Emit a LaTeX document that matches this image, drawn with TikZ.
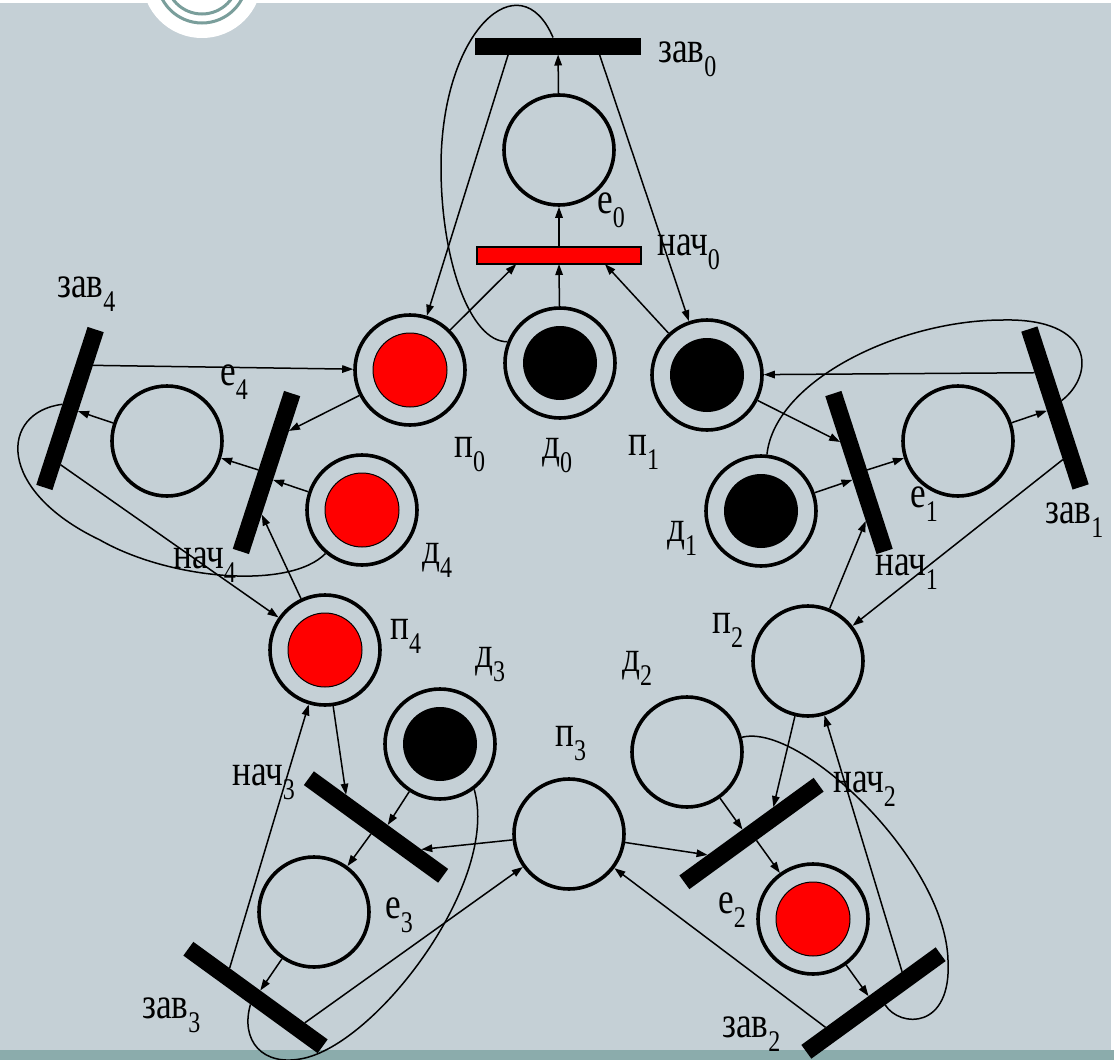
\documentclass[tikz,border=0pt]{standalone}
\usepackage{fontspec}
\setmainfont{Liberation Serif}[FakeStretch=0.8]
\usetikzlibrary{arrows.meta,calc}
\definecolor{slidebg}{RGB}{197,208,214}
\definecolor{slideband}{RGB}{139,172,172}
\definecolor{slidering}{RGB}{122,158,155}
\newcommand{\lab}[2]{#1\raisebox{-14pt}{\fontsize{30}{30}\selectfont #2}}

\begin{document}
\begin{tikzpicture}[
    x=1pt, y=-1pt,
    % places and transitions of the net
    place/.style={circle, draw, line width=3.6pt, minimum size=110pt, inner sep=0pt},
    redtok/.style={place, path picture={\filldraw[fill=red, draw=black, line width=1pt] (path picture bounding box.center) circle (37pt);}},
    blacktok/.style={place, path picture={\fill (path picture bounding box.center) circle (37pt);}},
    trans/.style={rectangle, fill=black, minimum width=166pt, minimum height=17pt, inner sep=0pt, outer sep=0pt},
    flow/.style={line width=1.5pt, -{Triangle[length=11pt,width=7.5pt]}},
    loopline/.style={line width=1.5pt},
    lbl/.style={inner sep=0pt, anchor=base west, font=\fontsize{44}{46}\selectfont}
  ]
  \useasboundingbox (0,0) rectangle (1114,1060);
  \clip (0,0) rectangle (1114,1060);

  % slide background
  \fill[white] (0,0) rectangle (1114,1060);
  \fill[slidebg] (0,3) rectangle (1111,1050);
  \fill[slideband] (0,1050) rectangle (1114,1060);
  \fill[white] (202,-22) circle (60pt);
  \draw[slidering, line width=3pt] (202,-22) circle (45pt) (202,-22) circle (36pt);

  % transitions
  \node[trans] (zav0) at (558,46) {};
  \node[trans, fill=red, draw=black, line width=1.5pt, minimum width=164pt] (nach0) at (559,255.5) {};
  \node[trans, rotate=-72] (nach1) at (859,472.5) {};
  \node[trans, rotate=-72] (zav1) at (1055,408) {};
  \node[trans, rotate=216] (nach2) at (751.5,833.5) {};
  \node[trans, rotate=216] (zav2) at (873.5,1003) {};
  \node[trans, rotate=144] (nach3) at (376,827) {};
  \node[trans, rotate=144] (zav3) at (255.5,997.5) {};
  \node[trans, rotate=72] (nach4) at (266.5,472.5) {};
  \node[trans, rotate=72] (zav4) at (70,408.5) {};

  % places
  \node[place] (e0) at (559,150) {};
  \node[redtok] (p0) at (410,370) {};
  \node[blacktok] (d0) at (560,363) {};
  \node[blacktok] (p1) at (707,375) {};
  \node[blacktok] (d1) at (761,511) {};
  \node[place] (e1) at (958,441) {};
  \node[place] (p2) at (808,661) {};
  \node[place] (d2) at (687,752) {};
  \node[redtok] (e2) at (813,919) {};
  \node[place] (p3) at (569,834) {};
  \node[blacktok] (d3) at (440,744) {};
  \node[place] (e3) at (314,912) {};
  \node[redtok] (p4) at (325,650) {};
  \node[redtok] (d4) at (362,510) {};
  \node[place] (e4) at (167,441) {};

  % ports on the bars
  \coordinate (n0p0) at ($(nach0.south west)!0.24!(nach0.south east)$);
  \coordinate (n0d) at ($(nach0.south west)!0.5!(nach0.south east)$);
  \coordinate (n0p1) at ($(nach0.south west)!0.78!(nach0.south east)$);
  \coordinate (z0p0) at ($(zav0.south west)!0.2!(zav0.south east)$);
  \coordinate (z0p1) at ($(zav0.south west)!0.75!(zav0.south east)$);
  \coordinate (z0d) at ($(zav0.north west)!0.47!(zav0.north east)$);

  \coordinate (n1p1) at ($(nach1.south west)!0.29!(nach1.south east)$);
  \coordinate (n1d) at ($(nach1.south west)!0.53!(nach1.south east)$);
  \coordinate (n1p2) at ($(nach1.south west)!0.79!(nach1.south east)$);
  \coordinate (z1p1) at ($(zav1.south west)!0.26!(zav1.south east)$);
  \coordinate (z1p2) at ($(zav1.south west)!0.81!(zav1.south east)$);
  \coordinate (z1d) at ($(zav1.north west)!0.47!(zav1.north east)$);

  \coordinate (n2p2) at ($(nach2.south west)!0.3!(nach2.south east)$);
  \coordinate (n2d) at ($(nach2.south west)!0.53!(nach2.south east)$);
  \coordinate (n2p3) at ($(nach2.south west)!0.79!(nach2.south east)$);
  \coordinate (z2p2) at ($(zav2.south west)!0.25!(zav2.south east)$);
  \coordinate (z2p3) at ($(zav2.south west)!0.82!(zav2.south east)$);
  \coordinate (z2d) at ($(zav2.north west)!0.45!(zav2.north east)$);

  \coordinate (n3p3) at ($(nach3.south west)!0.2!(nach3.south east)$);
  \coordinate (n3d) at ($(nach3.south west)!0.45!(nach3.south east)$);
  \coordinate (n3p4) at ($(nach3.south west)!0.76!(nach3.south east)$);
  \coordinate (z3p3) at ($(zav3.south west)!0.17!(zav3.south east)$);
  \coordinate (z3p4) at ($(zav3.south west)!0.73!(zav3.south east)$);
  \coordinate (z3d) at ($(zav3.north west)!0.5!(zav3.north east)$);

  \coordinate (n4p4) at ($(nach4.south west)!0.25!(nach4.south east)$);
  \coordinate (n4d) at ($(nach4.south west)!0.47!(nach4.south east)$);
  \coordinate (n4p0) at ($(nach4.south west)!0.78!(nach4.south east)$);
  \coordinate (z4p4) at ($(zav4.south west)!0.16!(zav4.south east)$);
  \coordinate (z4p0) at ($(zav4.south west)!0.79!(zav4.south east)$);
  \coordinate (z4d) at ($(zav4.north west)!0.51!(zav4.north east)$);

  % philosopher 0
  \draw[flow] (p0) -- (n0p0);
  \draw[flow] (d0) -- (n0d);
  \draw[flow] (p1) -- (n0p1);
  \draw[flow] (nach0) -- (e0);
  \draw[flow] (e0) -- (zav0);
  \draw[flow] (z0p0) -- (p0);
  \draw[flow] (z0p1) -- (p1);
  \draw[loopline] (z0d) .. controls (520,-40) and (441,30) .. (441,167) .. controls (441,260) and (470,342) .. (d0.158);

  % philosopher 1
  \draw[flow] (p1) -- (n1p1);
  \draw[flow] (d1) -- (n1d);
  \draw[flow] (p2) -- (n1p2);
  \draw[flow] (nach1) -- (e1);
  \draw[flow] (e1) -- (zav1);
  \draw[flow] (z1p1) -- (p1);
  \draw[flow] (z1p2) -- (p2);
  \draw[loopline] (z1d) .. controls (1095,375) and (1095,318) .. (1003,320) .. controls (900,320) and (775,380) .. (d1.84);

  % philosopher 2
  \draw[flow] (p2) -- (n2p2);
  \draw[flow] (d2) -- (n2d);
  \draw[flow] (p3) -- (n2p3);
  \draw[flow] (nach2) -- (e2);
  \draw[flow] (e2) -- (zav2);
  \draw[flow] (z2p2) -- (p2);
  \draw[flow] (z2p3) -- (p3);
  \draw[loopline] (z2d) .. controls (900,1028) and (952,1030) .. (948,960) .. controls (945,860) and (800,722) .. (d2.15);

  % philosopher 3
  \draw[flow] (p3) -- (n3p3);
  \draw[flow] (d3) -- (n3d);
  \draw[flow] (p4) -- (n3p4);
  \draw[flow] (nach3) -- (e3);
  \draw[flow] (e3) -- (zav3);
  \draw[flow] (z3p3) -- (p3);
  \draw[flow] (z3p4) -- (p4);
  \draw[loopline] (z3d) .. controls (240,1040) and (262,1068) .. (305,1058) .. controls (380,1040) and (500,880) .. (d3.-53);

  % philosopher 4
  \draw[flow] (p4) -- (n4p4);
  \draw[flow] (d4) -- (n4d);
  \draw[flow] (p0) -- (n4p0);
  \draw[flow] (nach4) -- (e4);
  \draw[flow] (e4) -- (zav4);
  \draw[flow] (z4p4) -- (p4);
  \draw[flow] (z4p0) -- (p0);
  \draw[loopline] (z4d) .. controls (0,412) and (-5,490) .. (100,540) .. controls (170,580) and (290,590) .. (d4.230);

  % labels
  \node[lbl] (lzav0) at (658,62) {\lab{зав}{0}};
  \node[lbl] (le0) at (597,213) {\lab{е}{0}};
  \node[lbl] (lnach0) at (657,255) {\lab{нач}{0}};
  \node[lbl] (lp0) at (454,457) {\lab{п}{0}};
  \node[lbl] (ld0) at (542,458) {\lab{д}{0}};
  \node[lbl] (lp1) at (628,455) {\lab{п}{1}};
  \node[lbl] (ld1) at (667,541) {\lab{д}{1}};
  \node[lbl] (le1) at (910,507) {\lab{е}{1}};
  \node[lbl] (lzav1) at (1045,523) {\lab{зав}{1}};
  \node[lbl] (lnach1) at (875,575) {\lab{нач}{1}};
  \node[lbl] (lp2) at (712,633) {\lab{п}{2}};
  \node[lbl] (ld2) at (622,671) {\lab{д}{2}};
  \node[lbl] (lnach2) at (833,792) {\lab{нач}{2}};
  \node[lbl] (le2) at (718,913) {\lab{е}{2}};
  \node[lbl] (lzav2) at (722,1037) {\lab{зав}{2}};
  \node[lbl] (lp3) at (555,746) {\lab{п}{3}};
  \node[lbl] (ld3) at (475,667) {\lab{д}{3}};
  \node[lbl] (lnach3) at (232,785) {\lab{нач}{3}};
  \node[lbl] (le3) at (385,918) {\lab{е}{3}};
  \node[lbl] (lzav3) at (142,1018) {\lab{зав}{3}};
  \node[lbl] (lp4) at (390,639) {\lab{п}{4}};
  \node[lbl] (ld4) at (422,563) {\lab{д}{4}};
  \node[lbl] (lnach4) at (173,568) {\lab{нач}{4}};
  \node[lbl] (le4) at (220,385) {\lab{е}{4}};
  \node[lbl] (lzav4) at (57,297) {\lab{зав}{4}};
\end{tikzpicture}
\end{document}
